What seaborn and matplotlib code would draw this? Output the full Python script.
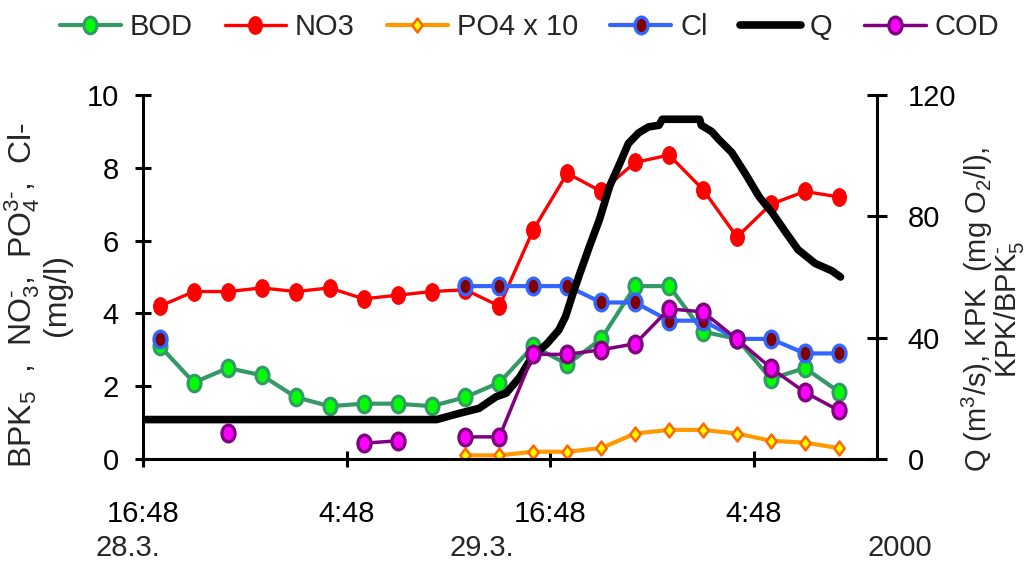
import numpy as np
import pandas as pd
import seaborn as sns
import matplotlib
matplotlib.use("Agg")
import matplotlib.pyplot as plt
import matplotlib.transforms as mtransforms
from matplotlib.path import Path
from matplotlib.lines import Line2D

nan = np.nan

# ---- data (hours after 16:48 on 28.3.) ----
hours = [1, 3, 5, 7, 9, 11, 13, 15, 17, 19, 21, 23, 25, 27, 29, 31, 33, 35, 37, 39, 41]
bod = [3.1, 2.1, 2.5, 2.3, 1.7, 1.45, 1.52, 1.52, 1.45, 1.7, 2.1, 3.1, 2.6, 3.3, 4.75, 4.75, 3.5, 3.3, 2.2, 2.5, 1.85]
no3 = [4.2, 4.6, 4.6, 4.7, 4.6, 4.7, 4.4, 4.5, 4.6, 4.65, 4.2, 6.3, 7.85, 7.35, 8.15, 8.35, 7.4, 6.1, 7.0, 7.35, 7.2]
po4x10 = [nan, nan, nan, nan, nan, nan, nan, nan, nan, 0.1, 0.1, 0.2, 0.2, 0.3, 0.7, 0.8, 0.8, 0.7, 0.5, 0.45, 0.3]
cl = [3.3, nan, nan, nan, nan, nan, nan, nan, nan, 4.75, 4.75, 4.75, 4.75, 4.3, 4.3, 3.8, 3.8, 3.3, 3.3, 2.9, 2.9]
cod = [nan, nan, 8.5, nan, nan, nan, 5.2, 6.0, nan, 7.3, 7.3, 34.5, 34.5, 36, 38, 49.5, 48.5, 39.5, 30, 22, 16]

q_hours = [0, 17.3, 18.6, 19.8, 20.8, 21.4, 22.2, 22.9, 23.8, 24.5, 24.9, 25.3, 25.7, 26.3, 26.9,
           27.5, 28.1, 28.6, 29.2, 29.8, 30.4, 30.6, 32.8, 32.9, 33.5, 33.9, 34.7, 35.5, 36.3,
           37.1, 37.9, 38.6, 39.6, 40.6, 41.1]
q_values = [13, 13, 15, 16.7, 20.5, 21.7, 27, 33.5, 38, 42.5, 47, 54, 60.5, 70, 79,
            90, 97.5, 104, 107.5, 109.5, 110, 112, 112, 110, 108, 105.5, 101, 94, 86.5,
            81, 74.5, 69, 64.5, 62, 60]

series_names = ["BOD", "NO3", "PO4 x 10", "Cl", "Q", "COD"]
xtick_hours = [0, 12, 24, 36]
xtick_labels = ["16:48", "4:48", "16:48", "4:48"]
date_labels = ["28.3.", "29.3.", "2000"]
left_ticks = [0, 2, 4, 6, 8, 10]
right_ticks = [0, 40, 80, 120]

# ---- style ----
sns.set_theme(style="white")
FONT = "Liberation Sans"
plt.rcParams["font.family"] = [FONT, "DejaVu Sans"]
plt.rcParams["mathtext.fontset"] = "custom"
plt.rcParams["mathtext.rm"] = FONT
plt.rcParams["mathtext.it"] = FONT
plt.rcParams["mathtext.bf"] = FONT

FS = 21

circ = Path.unit_circle()
ellipse = Path(circ.vertices * np.array([0.78, 1.0]), circ.codes)
diamond = Path([(0, 1), (0.75, 0), (0, -1), (-0.75, 0), (0, 1)],
               [Path.MOVETO, Path.LINETO, Path.LINETO, Path.LINETO, Path.CLOSEPOLY])

styles = {
    "BOD": dict(color="#339966", lw=3, marker=ellipse, markersize=12,
                markerfacecolor="#00ff00", markeredgecolor="#339966", markeredgewidth=2.2),
    "NO3": dict(color="#ff0000", lw=2.4, marker=ellipse, markersize=12.5,
                markerfacecolor="#ff0000", markeredgecolor="#ff0000", markeredgewidth=1),
    "PO4 x 10": dict(color="#ff9900", lw=3, marker=diamond, markersize=10,
                     markerfacecolor="#ffff00", markeredgecolor="#ff6600", markeredgewidth=1.8),
    "Cl": dict(color="#3366ff", lw=3, marker=ellipse, markersize=12,
               markerfacecolor="#800000", markeredgecolor="#3366ff", markeredgewidth=2.4),
    "Q": dict(color="black", lw=5.5),
    "COD": dict(color="#800080", lw=2.5, marker=ellipse, markersize=12,
                markerfacecolor="#ff00ff", markeredgecolor="#800080", markeredgewidth=2.4),
}


def frame(values):
    v = pd.Series(values, dtype=float)
    seg = v.isna().cumsum()
    df = pd.DataFrame({"t": hours, "v": v, "seg": seg})
    return df.dropna()


fig = plt.figure(figsize=(10.28, 5.65), dpi=100)
ax = fig.add_axes([143 / 1028, 1 - 459 / 565, 734 / 1028, 364 / 565])
ax2 = ax.twinx()

for name, vals in [("BOD", bod), ("NO3", no3), ("PO4 x 10", po4x10), ("Cl", cl)]:
    sns.lineplot(data=frame(vals), x="t", y="v", units="seg", estimator=None, sort=False,
                 ax=ax, legend=False, **styles[name])

sns.lineplot(x=q_hours, y=q_values, estimator=None, sort=False, ax=ax2, legend=False,
             **styles["Q"])
sns.lineplot(data=frame(cod), x="t", y="v", units="seg", estimator=None, sort=False,
             ax=ax2, legend=False, **styles["COD"])

ax.set_xlim(0, 43.25)
ax.set_ylim(0, 10)
ax2.set_ylim(0, 120)
ax.set_xticks(xtick_hours)
ax.set_xticklabels(xtick_labels)
ax.set_yticks(left_ticks)
ax.set_yticklabels([str(v) for v in left_ticks])
ax2.set_yticks(right_ticks)
ax2.set_yticklabels([str(v) for v in right_ticks])
ax.set_xlabel("")

for a in (ax, ax2):
    a.grid(False)
    a.spines["top"].set_visible(False)
    for s in a.spines.values():
        s.set_linewidth(2.2)
        s.set_color("black")
ax.spines["right"].set_visible(False)
ax2.spines["left"].set_visible(False)
ax2.spines["bottom"].set_visible(False)

ax.tick_params(axis="y", direction="inout", length=11, width=2.2, pad=12, labelsize=FS,
               left=True, colors="black")
ax.tick_params(axis="x", direction="inout", length=11, width=2.2, pad=24, labelsize=FS,
               bottom=True, colors="black")
ax2.tick_params(axis="y", direction="inout", length=14, width=2.2, pad=15, labelsize=FS,
                right=True, colors="black")

HY = "\u2010"
ax.set_ylabel("BPK$_5$  ,  NO$_3^{" + HY + "}$,  PO$_4^{3" + HY + "}$,  Cl" + HY + "\n(mg/l)",
              fontsize=23, linespacing=1.0)
ax.yaxis.set_label_coords(-0.097, 0.45)
ax2.set_ylabel("Q (m$^3$/s), KPK  (mg O$_2$/l),\nKPK/BPK$_5^{" + HY + "}$", fontsize=21,
               linespacing=0.85, rotation=90)
ax2.yaxis.set_label_coords(1.113, 0.41)

trans = mtransforms.blended_transform_factory(ax.transData, ax.transAxes)
for xh, lab in zip([-0.88, 19.98, 44.6], date_labels):
    ax.text(xh, -0.245, lab, transform=trans, ha="center", va="center", fontsize=FS,
            clip_on=False)

handles = [Line2D([], [], **styles[name]) for name in series_names]
fig.legend(handles, series_names, loc="center", bbox_to_anchor=(0.515, 1 - 27 / 565),
           ncol=6, frameon=False, fontsize=FS, handlelength=2.1, handletextpad=0.3,
           columnspacing=1.1, borderaxespad=0)

fig.savefig("out.png", dpi=100, facecolor="white")
